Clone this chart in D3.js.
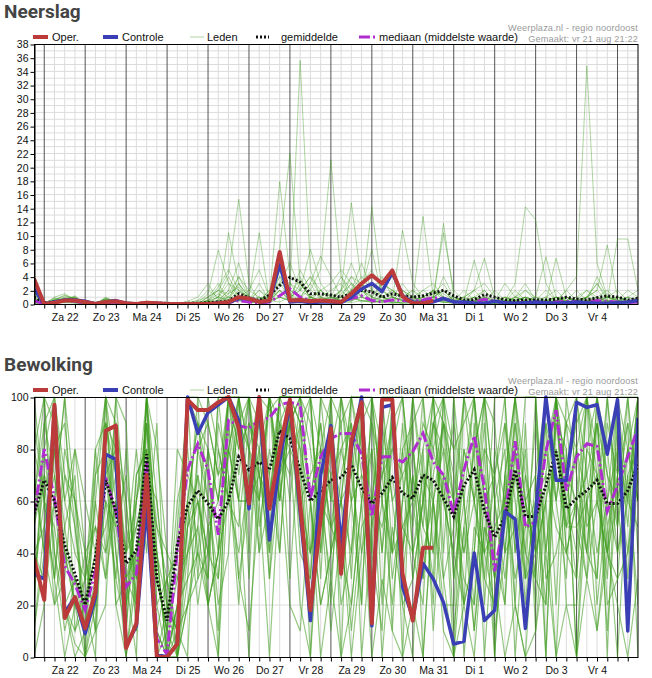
<!DOCTYPE html>
<html><head><meta charset="utf-8">
<script src="https://cdn.jsdelivr.net/npm/d3@7"></script>
<style>
body{margin:0;background:#fff;}
svg{display:block;font-family:"Liberation Sans",Arial,sans-serif;}
.title{font-family:Roboto,"Open Sans",sans-serif;font-weight:bold;font-size:19px;fill:#444;}
.leg{font-size:11px;fill:#111;}
.src{font-size:9.2px;fill:#9a9a9a;text-anchor:end;letter-spacing:0.15px;}
.tick text{font-size:10.5px;fill:#111;}
</style></head><body>
<svg id="chart" width="652" height="678"></svg>
<script>
// 6-hourly steps starting vr 21 aug 18:00
var dayLabels = ["Za 22","Zo 23","Ma 24","Di 25","Wo 26","Do 27","Vr 28","Za 29","Zo 30","Ma 31","Di 1","Wo 2","Do 3","Vr 4"];

// --- Neerslag (mm) ---
var opRain = [3.7,0,0.2,0.5,0.5,0.3,0,0.3,0.4,0.1,0,0.2,0.1,0,0,0,0,0,0.1,0.3,1.0,0.8,0.3,0.5,7.6,0.5,0.6,0.4,0.5,0.4,0.3,1.5,3.0,4.2,3.0,4.9,1.1,0.1,0.1,0.5];
var ctrlRain = [2.2,0,0.3,0.6,0.6,0.4,0,0.3,0.5,0.1,0,0.1,0.1,0,0,0,0,0,0.1,0.2,0.8,0.8,0.3,0.4,5.8,0.3,0.4,0.2,0.3,0.3,0.2,1.0,2.2,3.0,1.8,4.6,1.2,0.3,0.2,0.3,0.8,0.3,0.3,0.1,0.1,0.4,0.2,0.1,0.2,0.3,0.2,0.1,0.2,0.3,0.2,0.1,0.1,0.2,0.3,0.5];
var meanRain = [1.0,0.2,0.3,0.5,0.5,0.3,0.1,0.3,0.4,0.1,0.05,0.2,0.1,0.1,0.05,0.1,0.1,0.2,0.3,0.4,1.5,0.9,0.5,1.3,2.7,3.9,3.2,1.5,1.5,1.3,1.0,1.5,2.0,1.8,1.0,1.5,1.2,1.0,1.2,1.6,2.0,1.2,0.6,0.6,1.4,1.0,0.6,0.5,0.6,0.6,0.6,0.7,1.0,0.7,0.6,0.9,1.2,1.0,0.6,0.8];
var medRain = [0.5,0,0.2,0.5,0.4,0.1,0,0.2,0.3,0,0,0.1,0,0,0,0,0,0,0.1,0.2,0.5,0.3,0.1,0.3,1.2,2.2,1.0,0.5,0.4,0.5,0.3,0.8,1.2,0.5,0.3,0.6,0.5,0.4,0.6,0.9,0.8,0.3,0.2,0.3,0.7,0.4,0.2,0.1,0.2,0.3,0.2,0.3,0.4,0.3,0.3,0.5,0.4,0.3,0.2,0.3];
var memRain = [
 [2.5, 0,0.6,1.2,0.8, 0,0,0.8,0.3, 0,0,0.3,0, 0,0,0,0, 0.5,2.0,4.5,15.3, 3,0.5,1.2,6, 2,35.6,5,1, 0.5,2,4,3, 1,0.5,2,1, 0,0.5,1.5,3, 0.5,0.2,1,2, 0.3,0,0.5,1, 0.2,0.5,1,0.3, 0,1,3,0.5, 0.2,1,0.5],
 [1.0, 0,0.4,0.9,0.5, 0,0,0.5,0.4, 0,0,0.2,0, 0,0,0,0.2, 1.5,7.9,3,1, 0.5,2,1,17.9, 4,3,1,0.5, 0.3,1,3,2, 0.5,1,0.5,0, 0,0.2,2,1, 0.3,1,0,0.5, 0,0.5,3,14.2, 12.3,3,0.5,0.2, 0,0.5,1,0.3, 0,0.2,0.5],
 [0.5, 0,0.2,0.5,0.3, 0,0,0.3,0.1, 0,0,0.4,0, 0,0,0,0, 0,0.5,10.4,3, 1,10.4,0.2,2, 0.5,1,2,5, 21,4,1,0.5, 0.2,0.5,1,3, 1,0.5,0.2,1, 0.5,2,0.5,0, 0.2,0,1,0.5, 0,0.3,0.5,2, 4,34.8,6,1, 0.5,0.2,1],
 [3.0, 0,1.0,1.5,0.6, 0,0,1.0,0.2, 0,0,0.1,0, 0,0,0.1,0.5, 2,1,0.5,4, 2,5,1,8, 22,3,1,2, 1,0.5,2,1, 14.2,2,1,0.5, 0.5,12.8,1,2, 0.5,0.2,1,0.5, 0,1,0.3,0.5, 1,0.5,0.2,1, 0.5,0.2,0.5,1, 1,0.5,0.3],
 [0.2, 0,0.1,0.3,0.2, 0,0,0.2,0, 0,0,0,0, 0,0,0.4,1, 3,0.5,2,6, 1,0.5,0.2,3, 6,2,4,1, 0.5,2,14.8,3, 1,3,2,1, 0.5,0,1,10.4, 2,0.5,0.3,1, 0.2,0,1,2, 0.5,0.2,0.5,1, 0.3,1,2,0.5, 9.5,9.5,2],
 [1.5, 0,0.8,0.6,1.2, 0,0,0.5,0.5, 0,0,0.3,0, 0,0,0,0, 0.2,1,3,2, 0.5,1,0.5,4, 3,2,1,0.5, 1,4,2,6, 2,1,0.5,10.8, 3,1,0.5,11.8, 1,0.5,6.4,1, 0.5,0.2,1,0.5, 0,0.5,1,0.3, 0.5,1,2,8.6, 1,0.5,0.3],
 [0.8, 0,0.3,0.7,0.4, 0,0,0.6,0.2, 0,0,0.2,0, 0,0,0,0, 0.5,0.3,1.5,2.5, 0.3,0.5,1,2, 1,4,0.5,1, 2,3,1,0.5, 0.5,2,4,2, 1,0.5,1,2, 0.5,1,2,6.7, 1,0.5,0.2,0.5, 1,6.9,1,0.5, 0.2,0.5,1,0.5, 0.3,1,2],
 [2.0, 0,0.5,1.0,0.9, 0,0,0.7,0.3, 0,0,0.1,0, 0,0,0.2,0, 1,3,0.5,1, 2,1,0.3,5, 1,2,8,3, 1,0.5,1,2, 1,0.5,0.3,1, 2,1,0.5,0.3, 0.5,0.2,1,0.3, 2,0.5,0.2,1, 0.5,0.3,6.7,1, 0.5,2,1,0.3, 0.5,0.3,0.2],
 [0.3, 0,0.2,0.4,0.3, 0,0,0.4,0.1, 0,0,0.2,0, 0,0,0,0, 0,0.3,0.5,2, 1,0.5,2,3, 2,1,3,7, 4,1,2,3, 5,2,1,0.5, 0.3,1,2,1, 0.2,0.5,0.3,1, 0.5,1,0.5,0.2, 0.3,0.5,0.2,0.5, 1,0.5,0.3,1, 2,0.5,0.3],
 [1.8, 0,0.7,0.4,1.0, 0,0,0.9,0.4, 0,0,0.3,0, 0,0,0,0.3, 0.5,1.5,0.5,3, 0.2,0.5,0.3,6, 1.5,0.5,1,2, 0.5,1,4,2, 8,1,0.5,2, 0.5,2,1,0.5, 1,0.5,0.3,0.2, 0.5,3,1,0.5, 0.2,1,0.5,0.3, 0.5,0.3,1,2, 0.5,1,0.5],
 [0.6, 0,0.3,0.8,0.5, 0,0,0.3,0.2, 0,0,0,0, 0,0,0,0, 0.2,0.5,2,1, 0.5,1,0.5,2, 0.5,1,0.3,0.5, 0.3,1.5,3,1, 0.5,0.3,1,0.5, 0.2,0.5,0.3,1, 0.2,0.3,0.5,0.2, 0.2,0.5,0.3,0.1, 0.3,0.2,0.5,0.2, 0.1,0.3,0.5,0.2, 0.3,0.2,0.5],
 [1.1, 0,0.5,0.6,0.7, 0,0,0.6,0.3, 0,0,0.2,0, 0,0,0,0, 0.3,1,0.5,0.8, 0.2,0.3,1,3, 1,0.5,0.8,0.3, 1,0.5,2,4, 2,0.5,0.2,0.3, 0.5,1,2,0.5, 0.3,0.2,0.5,2, 0.5,0.2,0.3,1, 0.5,0.2,0.3,0.5, 0.2,0.5,0.3,0.2, 0.3,0.5,1],
 [0, 0,0.1,0.2,0.1, 0,0,0.1,0, 0,0,0,0, 0,0,0,0, 0,0.2,0.3,0.5, 0.2,0.5,0.2,1, 0.5,0.3,1,0.5, 0.2,0.5,1,0.3, 0.5,1,0.3,0.2, 0.3,0.5,1,0.3, 0.1,0.2,0.3,0.5, 0.2,0.1,0.3,0.2, 0.1,0.2,0.5,0.3, 0.2,0.1,0.3,0.5, 0.2,0.3,0.1],
 [1.4, 0,0.6,1.3,0.7, 0,0,0.7,0.5, 0,0,0.4,0, 0,0,0,0, 1,2,1,0.5, 0.5,2,0.5,1, 3,1,0.5,2, 0.5,1,0.3,2, 1,3,2,0.5, 1,2,3,1, 0.5,1,2,0.5, 0.3,1,0.5,2, 1,0.5,0.3,2, 0.5,1,3,1, 0.5,0.3,1],
 [0.4, 0,0.2,0.3,0.4, 0,0,0.2,0.1, 0,0,0.1,0, 0,0,0,0, 0,0.2,1,0.5, 0.3,0.2,0.5,1, 0.5,0.2,0.3,0.8, 0.3,0.2,0.5,1, 0.3,0.2,0.1,0.3, 0.2,0.1,0.5,0.3, 0.1,0.3,0.2,0.1, 0.1,0.2,0.1,0.3, 0.2,0.1,0.2,0.1, 0.1,0.2,0.1,0.3, 0.1,0.2,0.1],
 [2.2, 0,0.9,0.5,1.1, 0,0,0.8,0.1, 0,0,0.2,0, 0,0,0.1,0, 0.5,2.5,5,2, 0.5,3,0.5,2, 0.5,5,2,1, 0.5,2,6,2, 3,1,2,1, 2,0.5,0.3,4, 1,0.5,1,0.5, 0.2,0.5,1,3, 0.5,2,0.5,1, 0.3,0.5,4,1, 0.5,2,1],
 [0.7, 0,0.4,0.5,0.6, 0,0,0.4,0.3, 0,0,0.1,0, 0,0,0,0, 0.3,0.5,1,3, 1,0.5,2,1, 0.5,3,1,0.5, 1.5,0.5,1,2, 0.5,2,0.5,1, 0.3,0.5,1,2, 0.5,0.3,0.5,1, 0.5,0.3,2,0.5, 0.3,0.5,1,0.5, 2,0.5,0.3,1, 0.5,0.3,0.5],
 [0.9, 0,0.3,0.6,0.8, 0,0,0.5,0.2, 0,0,0.3,0, 0,0,0,0.1, 0.5,1,4,1, 0.2,0.5,1,5, 2,1,3,0.5, 1,2,0.5,1, 0.5,0.3,0.5,2, 1,0.3,0.5,1, 0.3,1,0.2,0.5, 0.2,0.3,0.5,1, 0.5,0.2,1,0.3, 0.5,1,0.5,0.3, 1,0.5,0.3],
 [0.1, 0,0.2,0.3,0.2, 0,0,0.2,0.2, 0,0,0,0, 0,0,0,0, 0.1,0.3,0.5,1, 0.3,0.2,0.5,0.3, 1,0.5,0.2,0.3, 0.5,0.3,0.2,0.5, 0.3,0.5,0.2,0.1, 0.2,0.3,0.5,0.2, 0.3,0.1,0.2,0.3, 0.2,0.1,0.2,0.1, 0.1,0.3,0.1,0.2, 0.1,0.2,0.3,0.1, 0.2,0.1,0.3],
 [1.6, 0,0.5,0.8,1.0, 0,0,0.6,0.4, 0,0,0.2,0, 0,0,0.2,0.5, 1,2,1.5,4, 1,0.5,1.5,4, 1,2,4,2, 3,5,3,1, 2,4,1,0.5, 0.5,1,2,1.5, 0.5,0.3,2,3, 1,0.5,0.5,1, 0.5,1,2,0.5, 1,2,0.5,0.5, 1,0.5,0.5]
];

// --- Bewolking (%) ---
var opCloud = [38,22,97,15,23,11,25,87,89,3.5,13,70,0,0,5,99,95,95,98,100,88,59,100,57,80,99,59,18,53,88,32,83,98,13,99,99,32,14,42,42];
var ctrlCloud = [32,30,96,17,23,9,23,78,76,4,12,58,1,0,5,100,86,94,97,100,91,57,99,45,75,98,56,14,70,89,43,80,100,12,96,97,27,15,36,30,21,5,6,40,14,18,56,53,11,55,100,68,68,98,96,97,78,99,10,92];
var meanCloud = [55,68,60,43,32,20,38,68,56,36,41,78,30,14,43,58,64,59,53,60,77,72,75,72,87,84,72,60,64,68,69,74,65,59,63,69,63,61,70,68,61,54,66,72,56,46,54,72,54,54,66,79,57,61,64,68,59,59,64,74];
var medCloud = [55,80,61,35,28,18,33,69,56,27,32,75,7,1,41,72,82,72,47,91,89,88,91,92,97,98,97,61,77,84,86,86,78,54,77,77,75,79,86,75,70,55,72,85,65,33,54,83,50,52,79,95,64,77,82,81,56,66,77,88];
var memCloud = [
 [60, 100,90,40,20, 10,60,100,70, 30,20,100,40, 0,50,100,100, 90,70,100,100, 60,100,95,100, 100,40,30,80, 100,90,30,100, 100,20,90,100, 60,80,100,90, 30,70,100,40, 20,60,100,30, 40,100,100,50, 80,100,60,40, 100,100,100],
 [40, 30,80,20,5, 0,20,60,30, 10,60,90,10, 0,20,40,60, 30,100,60,90, 100,40,100,70, 90,100,60,20, 40,60,100,70, 20,80,100,40, 100,60,30,100, 80,20,40,100, 60,20,100,70, 30,20,100,90, 50,30,100,80, 40,60,100],
 [80, 100,40,10,30, 20,0,90,80, 60,10,60,30, 10,60,80,40, 20,40,100,60, 100,90,40,100, 100,100,80,50, 70,20,40,90, 100,60,20,60, 90,100,60,30, 50,100,100,60, 30,60,80,20, 70,100,60,30, 100,70,40,60, 80,30,100],
 [20, 90,100,60,40, 30,50,40,100, 50,30,100,60, 20,10,60,90, 60,30,80,100, 40,100,60,100, 100,90,40,70, 20,100,70,40, 60,100,40,90, 40,20,90,100, 60,30,20,80, 10,40,90,60, 40,60,100,20, 20,60,90,50, 70,100,60],
 [100, 60,30,80,60, 40,10,100,40, 10,70,80,20, 30,0,20,50, 100,80,60,40, 70,60,100,90, 60,100,100,30, 100,40,20,60, 80,40,100,20, 30,60,100,40, 100,60,10,50, 40,90,60,30, 60,90,20,100, 70,40,30,100, 60,20,70],
 [30, 70,20,30,80, 60,40,80,20, 0,40,70,50, 40,30,60,20, 50,60,100,70, 100,50,80,60, 100,80,60,90, 60,90,100,80, 40,100,60,70, 80,40,60,20, 20,80,60,100, 90,40,50,100, 100,30,40,60, 40,100,80,20, 30,80,60],
 [70, 40,60,100,10, 20,60,30,100, 90,10,100,0, 20,10,0,80, 60,20,40,100, 80,100,70,40, 100,70,30,100, 90,30,60,100, 40,10,100,100, 60,90,80,60, 40,20,90,30, 70,100,40,80, 20,70,100,40, 60,100,70,30, 90,50,100],
 [50, 80,100,70,50, 10,30,90,60, 40,80,40,90, 0,0,30,40, 80,60,90,30, 60,80,100,60, 90,100,90,60, 30,70,90,60, 90,70,40,80, 50,100,40,90, 70,40,80,100, 60,30,70,40, 90,40,80,60, 30,80,100,60, 40,70,80],
 [10, 40,20,50,70, 0,70,100,90, 60,20,90,30, 10,80,70,60, 40,90,70,20, 80,40,60,80, 70,90,100,40, 80,60,10,50, 60,90,60,30, 70,30,80,100, 30,60,100,20, 80,60,30,50, 50,80,100,70, 60,30,60,100, 50,100,40],
 [90, 60,50,20,0, 10,80,40,60, 30,50,70,10, 30,40,100,90, 70,40,80,100, 100,70,60,90, 100,60,70,80, 50,40,80,100, 30,60,90,40, 70,50,100,60, 90,60,20,70, 40,20,80,30, 100,40,90,60, 80,60,30,90, 70,40,90],
 [60, 90,70,40,20, 30,30,60,50, 20,40,60,0, 10,0,50,70, 50,10,90,60, 0,80,30,70, 80,20,0,60, 10,50,0,40, 80,0,50,20, 0,80,10,70, 0,50,10,60, 0,70,20,90, 10,60,0,80, 0,60,10,50, 0,70,20],
 [0, 20,60,100,60, 0,10,80,40, 0,30,100,20, 0,10,50,100, 20,40,100,80, 100,60,100,40, 100,100,60,20, 40,100,60,20, 100,80,30,60, 100,70,20,100, 100,0,50,40, 100,100,20,0, 60,20,100,70, 90,100,20,60, 100,80,100],
 [40, 50,70,40,30, 20,40,50,70, 40,60,80,30, 10,30,40,50, 20,0,70,30, 10,60,0,70, 20,10,60,0, 30,0,20,60, 0,30,10,0, 20,0,60,10, 0,20,0,50, 30,0,20,0, 10,40,0,20, 0,30,10,40, 20,0,30],
 [100, 100,30,0,20, 0,30,100,20, 30,0,100,80, 40,0,100,30, 80,0,100,100, 30,100,30,100, 100,100,100,40, 100,0,100,100, 20,100,100,0, 100,100,100,30, 0,100,80,100, 0,70,100,100, 100,0,100,40, 30,100,100,0, 100,60,100],
 [50, 70,60,20,30, 10,20,70,80, 40,50,70,40, 0,0,20,30, 40,80,60,50, 90,70,50,90, 80,70,100,80, 50,80,60,70, 60,70,90,50, 40,70,60,90, 60,40,60,80, 70,40,80,50, 60,70,50,40, 60,40,90,70, 50,80,60],
 [30, 60,90,60,80, 40,10,20,90, 30,40,70,60, 20,0,40,70, 20,40,60,100, 80,60,100,70, 90,60,40,100, 60,60,100,100, 50,70,80,100, 40,60,90,80, 60,100,60,30, 20,70,100,60, 30,100,60,90, 100,50,60,40, 30,40,70],
 [70, 40,80,90,50, 20,40,70,30, 80,20,90,50, 30,10,60,90, 80,60,100,90, 80,70,100,60, 100,90,20,70, 80,100,80,20, 100,60,40,50, 60,30,70,90, 80,90,100,60, 70,90,40,70, 50,80,60,90, 80,40,100,70, 60,90,70],
 [20, 80,40,20,10, 30,70,80,50, 70,30,50,40, 0,20,30,80, 90,70,80,60, 60,90,70,100, 30,90,60,90, 40,60,70,100, 90,40,80,70, 30,60,90,60, 40,80,60,40, 50,60,90,40, 30,90,70,50, 60,70,90,40, 80,60,50],
 [80, 60,30,70,60, 30,80,90,70, 20,60,100,40, 20,10,20,40, 30,100,100,80, 90,80,60,100, 90,80,0,80, 70,80,90,0, 50,90,10,80, 90,0,60,80, 10,50,80,0, 60,80,0,60, 70,0,90,80, 0,80,70,10, 70,90,0],
 [10, 50,80,50,20, 40,50,30,60, 20,70,80,10, 0,20,50,60, 40,30,80,60, 60,70,40,80, 90,50,40,60, 50,60,40,90, 60,50,70,40, 80,50,40,70, 60,20,40,90, 30,50,70,60, 40,60,80,50, 50,60,70,40, 60,80,70]
];

var t0 = new Date(2020, 7, 21, 18);
var tEnd = new Date(2020, 8, 5, 12);
function stepTime(i) { return d3.timeHour.offset(t0, 6 * i); }

var svg = d3.select("#chart");
var x = d3.scaleTime().domain([t0, tEnd]).range([34, 638]);

var colors = { oper: "#bb3b3b", ctrl: "#3a3fb5", leden: "#3c9a1c", mean: "#111", med: "#b02ed0" };

function drawPanel(opts) {
    var g = svg.append("g").attr("transform", "translate(0," + opts.yOff + ")");
    var top = 44, bottom = 304;
    var y = d3.scaleLinear().domain([0, opts.yMax]).range([bottom, top]);

    g.append("text").attr("class", "title").attr("x", 4).attr("y", 18).text(opts.title);

    // legend
    var ly = 37;
    g.append("line").attr("x1", 33).attr("x2", 48).attr("y1", ly).attr("y2", ly)
        .attr("stroke", colors.oper).attr("stroke-width", 4);
    g.append("text").attr("class", "leg").attr("x", 52).attr("y", ly + 4).text("Oper.");
    g.append("line").attr("x1", 103).attr("x2", 118).attr("y1", ly).attr("y2", ly)
        .attr("stroke", colors.ctrl).attr("stroke-width", 4);
    g.append("text").attr("class", "leg").attr("x", 122).attr("y", ly + 4).text("Controle");
    g.append("line").attr("x1", 190).attr("x2", 204).attr("y1", ly).attr("y2", ly)
        .attr("stroke", colors.leden).attr("stroke-width", 1).attr("opacity", 0.4);
    g.append("text").attr("class", "leg").attr("x", 207).attr("y", ly + 4).text("Leden");
    g.append("line").attr("x1", 256).attr("x2", 269).attr("y1", ly).attr("y2", ly)
        .attr("stroke", colors.mean).attr("stroke-width", 3).attr("stroke-dasharray", "2,2");
    g.append("text").attr("class", "leg").attr("x", 281).attr("y", ly + 4).text("gemiddelde");
    g.append("line").attr("x1", 359).attr("x2", 377).attr("y1", ly).attr("y2", ly)
        .attr("stroke", colors.med).attr("stroke-width", 3).attr("stroke-dasharray", "11,3,2,3");
    g.append("text").attr("class", "leg").attr("x", 379).attr("y", ly + 4).text("mediaan (middelste waarde)");

    g.append("text").attr("class", "src").attr("x", 638).attr("y", 31).text("Weerplaza.nl - regio noordoost");
    g.append("text").attr("class", "src").attr("x", 638).attr("y", 42).text("Gemaakt: vr 21 aug 21:22");

    // grid
    g.append("g").selectAll("line").data(d3.range(opts.gridStep, opts.yMax, opts.gridStep))
        .enter().append("line")
        .attr("x1", 34).attr("x2", 638).attr("y1", function(d) { return y(d); }).attr("y2", function(d) { return y(d); })
        .attr("stroke", "#dcdcdc").attr("stroke-width", 1);
    g.append("g").selectAll("line").data(d3.timeHour.every(6).range(d3.timeHour.offset(t0, 1), tEnd))
        .enter().append("line")
        .attr("x1", function(d) { return x(d); }).attr("x2", function(d) { return x(d); })
        .attr("y1", top).attr("y2", bottom)
        .attr("stroke", function(d) { return d.getHours() === 0 ? "#555" : "#dcdcdc"; })
        .attr("stroke-width", 1);

    var clipId = "clip" + opts.yOff;
    g.append("clipPath").attr("id", clipId).append("rect")
        .attr("x", 34).attr("y", top - 2).attr("width", 604).attr("height", bottom - top + 2);
    var plot = g.append("g").attr("clip-path", "url(#" + clipId + ")");

    var line = d3.line().x(function(d, i) { return x(stepTime(i)); }).y(function(d) { return y(d); });

    plot.selectAll(".mem").data(opts.members).enter().append("path")
        .attr("class", "mem").attr("d", line).attr("fill", "none")
        .attr("stroke", colors.leden).attr("stroke-width", opts.memWidth).attr("opacity", opts.memOpacity);
    plot.append("path").attr("d", line(opts.med)).attr("fill", "none")
        .attr("stroke", colors.med).attr("stroke-width", 3).attr("stroke-dasharray", "11,3,2,3");
    plot.append("path").attr("d", line(opts.mean)).attr("fill", "none")
        .attr("stroke", colors.mean).attr("stroke-width", 3).attr("stroke-dasharray", "2,2");
    plot.append("path").attr("d", line(opts.ctrl)).attr("fill", "none")
        .attr("stroke", colors.ctrl).attr("stroke-width", 3.5).attr("stroke-linejoin", "round");
    plot.append("path").attr("d", line(opts.oper)).attr("fill", "none")
        .attr("stroke", colors.oper).attr("stroke-width", 4).attr("stroke-linejoin", "round");

    // frame
    g.append("rect").attr("x", 34.5).attr("y", top + 0.5).attr("width", 603.5).attr("height", bottom - top)
        .attr("fill", "none").attr("stroke", "#000");

    // axes
    var yAxis = g.append("g").attr("transform", "translate(34.5,0.5)")
        .call(d3.axisLeft(y).tickValues(d3.range(0, opts.yMax + 0.1, opts.tickStep)).tickSize(4).tickPadding(2).tickSizeOuter(0));
    yAxis.select(".domain").attr("stroke", "#000");

    var xAxis = g.append("g").attr("transform", "translate(0," + (bottom + 0.5) + ")")
        .call(d3.axisBottom(x).tickValues(d3.timeHour.every(6).range(d3.timeHour.offset(t0, 1), tEnd))
            .tickSize(4).tickFormat("").tickSizeOuter(0));
    xAxis.select(".domain").remove();

    var noon = dayLabels.map(function(d, k) { return d3.timeHour.offset(t0, 18 + 24 * k); });
    var xLab = g.append("g").attr("transform", "translate(0," + bottom + ")")
        .call(d3.axisBottom(x).tickValues(noon).tickSize(0).tickPadding(10)
            .tickFormat(function(d, i) { return dayLabels[i]; }));
    xLab.select(".domain").remove();
}

drawPanel({ yOff: 0, title: "Neerslag", yMax: 38, tickStep: 2, gridStep: 1, memOpacity: 0.4, memWidth: 1,
    members: memRain, oper: opRain, ctrl: ctrlRain, mean: meanRain, med: medRain });
drawPanel({ yOff: 353, title: "Bewolking", yMax: 100, tickStep: 20, gridStep: 20, memOpacity: 0.55, memWidth: 1.2,
    members: memCloud, oper: opCloud, ctrl: ctrlCloud, mean: meanCloud, med: medCloud });
</script></body></html>
